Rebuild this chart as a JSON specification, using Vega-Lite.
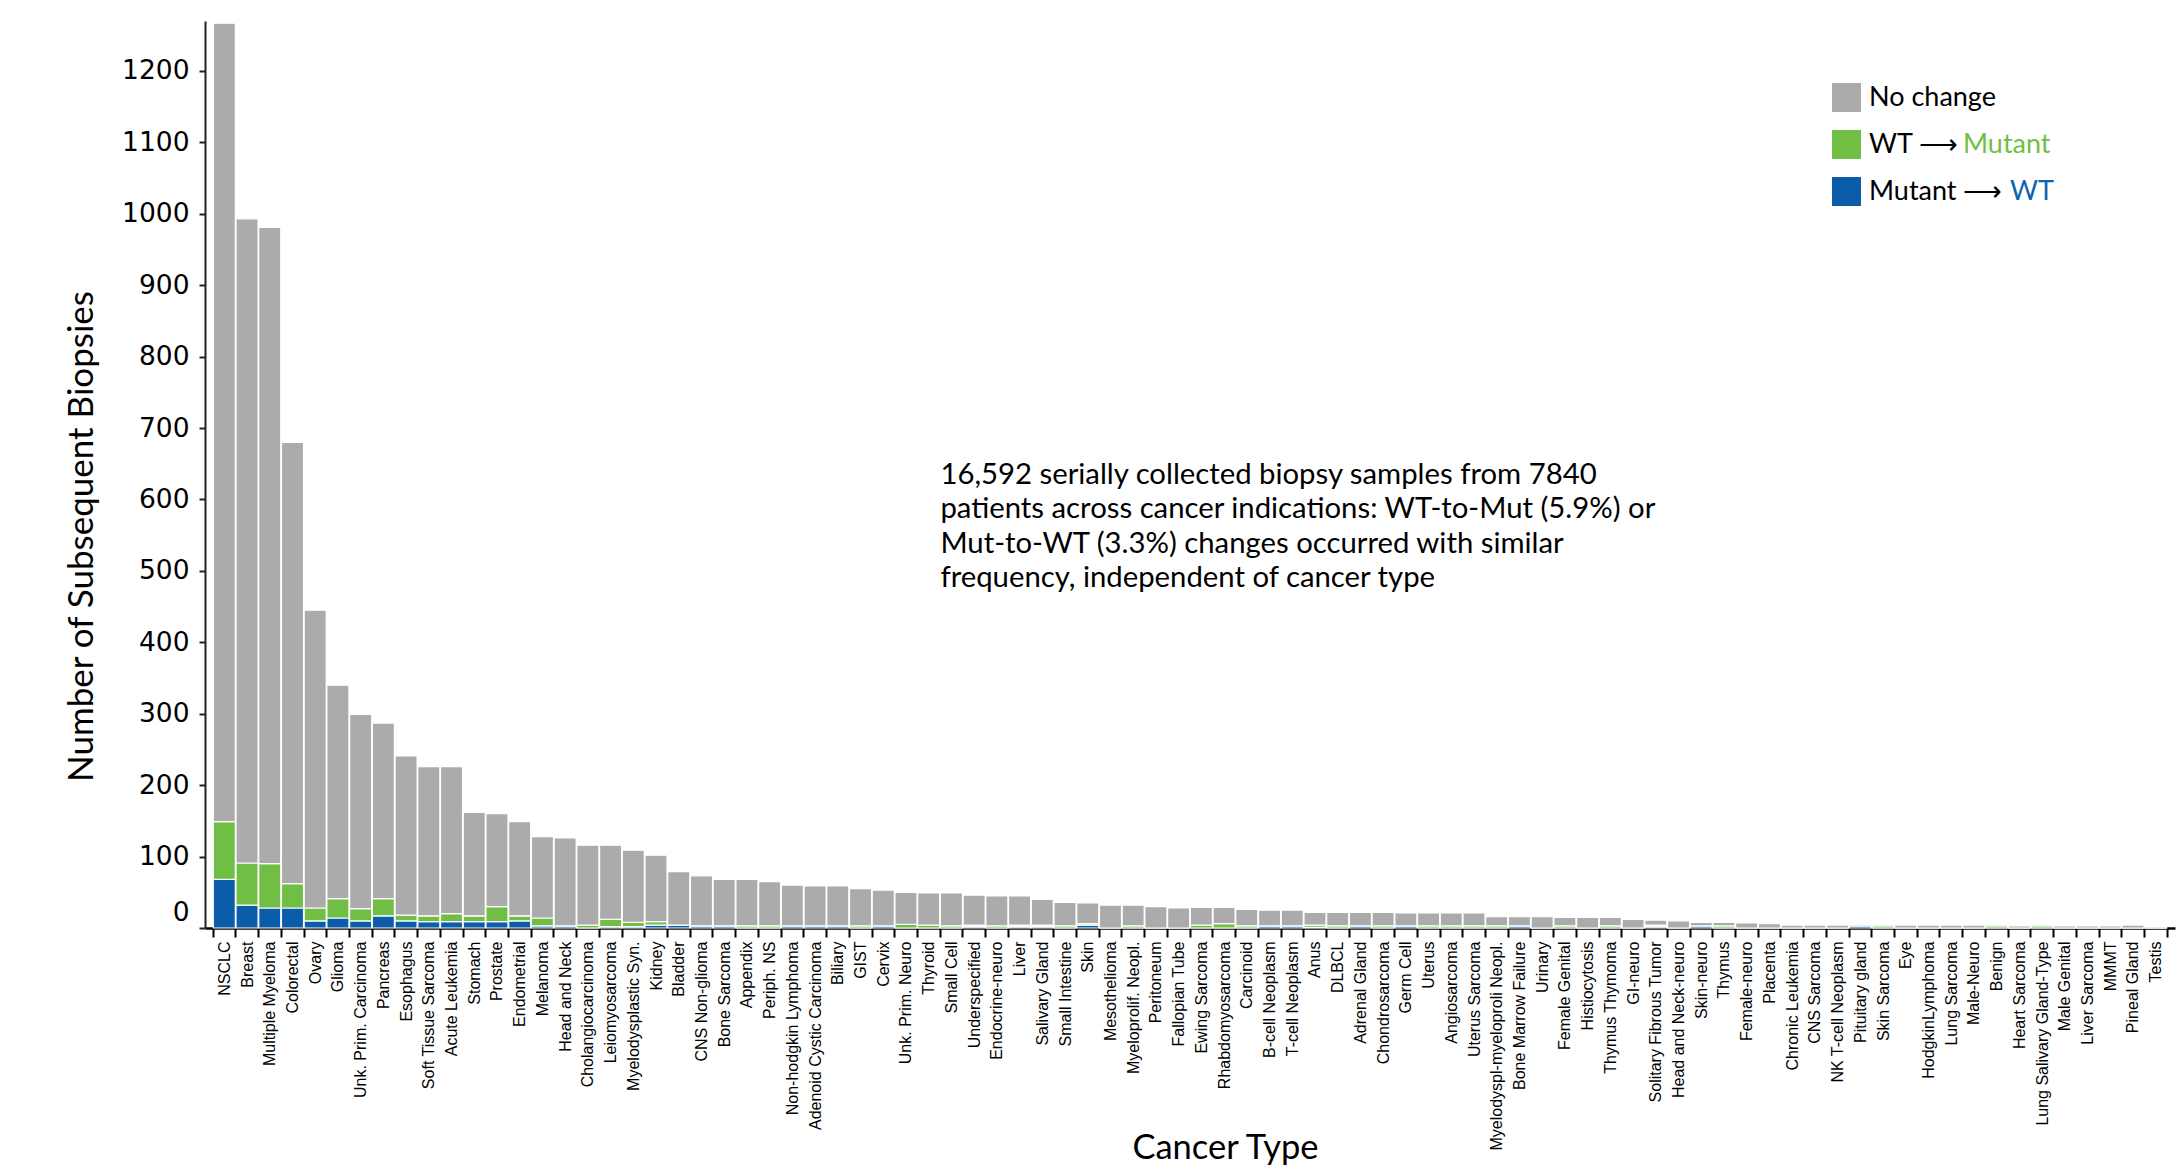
{
  "$schema": "https://vega.github.io/schema/vega-lite/v6.json",
  "width": 1970,
  "height": 907,
  "autosize": {"type": "none"},
  "padding": {"left": 205, "top": 21, "right": 5, "bottom": 242},
  "background": "white",
  "config": {"view": {"stroke": null}, "axis": {"grid": false}},
  "layer": [
    {
      "data": {"values": [
        {"c": "NSCLC", "mw": 68, "wm": 81, "nc": 1118},
        {"c": "Breast", "mw": 32, "wm": 59, "nc": 902},
        {"c": "Multiple Myeloma", "mw": 28, "wm": 62, "nc": 891},
        {"c": "Colorectal", "mw": 28, "wm": 34, "nc": 618},
        {"c": "Ovary", "mw": 10, "wm": 18, "nc": 417},
        {"c": "Glioma", "mw": 14, "wm": 27, "nc": 299},
        {"c": "Unk. Prim. Carcinoma", "mw": 10, "wm": 17, "nc": 272},
        {"c": "Pancreas", "mw": 17, "wm": 24, "nc": 246},
        {"c": "Esophagus", "mw": 10, "wm": 8, "nc": 223},
        {"c": "Soft Tissue Sarcoma", "mw": 9, "wm": 8, "nc": 209},
        {"c": "Acute Leukemia", "mw": 9, "wm": 11, "nc": 206},
        {"c": "Stomach", "mw": 9, "wm": 8, "nc": 145},
        {"c": "Prostate", "mw": 9, "wm": 21, "nc": 130},
        {"c": "Endometrial", "mw": 10, "wm": 7, "nc": 132},
        {"c": "Melanoma", "mw": 3, "wm": 11, "nc": 114},
        {"c": "Head and Neck", "mw": 3, "wm": 0, "nc": 123},
        {"c": "Cholangiocarcinoma", "mw": 0, "wm": 4, "nc": 112},
        {"c": "Leiomyosarcoma", "mw": 2, "wm": 10, "nc": 104},
        {"c": "Myelodysplastic Syn.", "mw": 2, "wm": 6, "nc": 101},
        {"c": "Kidney", "mw": 4, "wm": 5, "nc": 93},
        {"c": "Bladder", "mw": 4, "wm": 0, "nc": 75},
        {"c": "CNS Non-glioma", "mw": 3, "wm": 0, "nc": 70},
        {"c": "Bone Sarcoma", "mw": 3, "wm": 0, "nc": 65},
        {"c": "Appendix", "mw": 0, "wm": 3, "nc": 65},
        {"c": "Periph. NS", "mw": 0, "wm": 3, "nc": 62},
        {"c": "Non-hodgkin Lymphoma", "mw": 3, "wm": 0, "nc": 57},
        {"c": "Adenoid Cystic Carcinoma", "mw": 3, "wm": 0, "nc": 56},
        {"c": "Biliary", "mw": 3, "wm": 0, "nc": 56},
        {"c": "GIST", "mw": 0, "wm": 3, "nc": 52},
        {"c": "Cervix", "mw": 3, "wm": 0, "nc": 50},
        {"c": "Unk. Prim. Neuro", "mw": 0, "wm": 5, "nc": 45},
        {"c": "Thyroid", "mw": 0, "wm": 4, "nc": 45},
        {"c": "Small Cell", "mw": 0, "wm": 3, "nc": 46},
        {"c": "Underspecified", "mw": 2, "wm": 2, "nc": 42},
        {"c": "Endocrine-neuro", "mw": 0, "wm": 3, "nc": 42},
        {"c": "Liver", "mw": 2, "wm": 2, "nc": 41},
        {"c": "Salivary Gland", "mw": 2, "wm": 2, "nc": 36},
        {"c": "Small Intestine", "mw": 0, "wm": 3, "nc": 33},
        {"c": "Skin", "mw": 4, "wm": 2, "nc": 29},
        {"c": "Mesothelioma", "mw": 0, "wm": 0, "nc": 32},
        {"c": "Myeloprolif. Neopl.", "mw": 0, "wm": 3, "nc": 29},
        {"c": "Peritoneum", "mw": 0, "wm": 0, "nc": 30},
        {"c": "Fallopian Tube", "mw": 0, "wm": 0, "nc": 28},
        {"c": "Ewing Sarcoma", "mw": 0, "wm": 4, "nc": 25},
        {"c": "Rhabdomyosarcoma", "mw": 0, "wm": 6, "nc": 23},
        {"c": "Carcinoid", "mw": 0, "wm": 3, "nc": 23},
        {"c": "B-cell Neoplasm", "mw": 3, "wm": 0, "nc": 22},
        {"c": "T-cell Neoplasm", "mw": 3, "wm": 0, "nc": 22},
        {"c": "Anus", "mw": 1, "wm": 3, "nc": 18},
        {"c": "DLBCL", "mw": 0, "wm": 3, "nc": 19},
        {"c": "Adrenal Gland", "mw": 3, "wm": 0, "nc": 19},
        {"c": "Chondrosarcoma", "mw": 0, "wm": 3, "nc": 19},
        {"c": "Germ Cell", "mw": 3, "wm": 0, "nc": 18},
        {"c": "Uterus", "mw": 0, "wm": 3, "nc": 18},
        {"c": "Angiosarcoma", "mw": 0, "wm": 3, "nc": 18},
        {"c": "Uterus Sarcoma", "mw": 0, "wm": 3, "nc": 18},
        {"c": "Myelodyspl-myeloproli Neopl.", "mw": 0, "wm": 3, "nc": 13},
        {"c": "Bone Marrow Failure", "mw": 3, "wm": 0, "nc": 13},
        {"c": "Urinary", "mw": 0, "wm": 0, "nc": 16},
        {"c": "Female Genital", "mw": 0, "wm": 3, "nc": 12},
        {"c": "Histiocytosis", "mw": 0, "wm": 0, "nc": 15},
        {"c": "Thymus Thymoma", "mw": 0, "wm": 3, "nc": 12},
        {"c": "GI-neuro", "mw": 0, "wm": 0, "nc": 12},
        {"c": "Solitary Fibrous Tumor", "mw": 2, "wm": 2, "nc": 7},
        {"c": "Head and Neck-neuro", "mw": 0, "wm": 0, "nc": 10},
        {"c": "Skin-neuro", "mw": 3, "wm": 0, "nc": 5},
        {"c": "Thymus", "mw": 0, "wm": 3, "nc": 5},
        {"c": "Female-neuro", "mw": 0, "wm": 0, "nc": 7},
        {"c": "Placenta", "mw": 0, "wm": 0, "nc": 6},
        {"c": "Chronic Leukemia", "mw": 0, "wm": 0, "nc": 4},
        {"c": "CNS Sarcoma", "mw": 0, "wm": 0, "nc": 4},
        {"c": "NK T-cell Neoplasm", "mw": 0, "wm": 0, "nc": 4},
        {"c": "Pituitary gland", "mw": 3, "wm": 0, "nc": 2},
        {"c": "Skin Sarcoma", "mw": 0, "wm": 3, "nc": 2},
        {"c": "Eye", "mw": 0, "wm": 0, "nc": 4},
        {"c": "HodgkinLymphoma", "mw": 0, "wm": 0, "nc": 4},
        {"c": "Lung Sarcoma", "mw": 0, "wm": 0, "nc": 4},
        {"c": "Male-Neuro", "mw": 0, "wm": 0, "nc": 4},
        {"c": "Benign", "mw": 0, "wm": 3, "nc": 2},
        {"c": "Heart Sarcoma", "mw": 0, "wm": 0, "nc": 3},
        {"c": "Lung Salivary Gland-Type", "mw": 0, "wm": 3, "nc": 2},
        {"c": "Male Genital", "mw": 0, "wm": 0, "nc": 3},
        {"c": "Liver Sarcoma", "mw": 0, "wm": 0, "nc": 3},
        {"c": "MMMT", "mw": 0, "wm": 0, "nc": 3},
        {"c": "Pineal Gland", "mw": 0, "wm": 0, "nc": 4},
        {"c": "Testis", "mw": 0, "wm": 0, "nc": 2}
      ]},
      "transform": [
        {"fold": ["mw", "wm", "nc"], "as": ["s", "n"]},
        {"window": [{"op": "row_number", "as": "k"}], "groupby": ["c"]}
      ],
      "mark": {"type": "bar", "stroke": "white", "strokeWidth": 1.2},
      "encoding": {
        "x": {
          "field": "c", "type": "nominal", "sort": null,
          "scale": {"paddingInner": 0.03, "paddingOuter": 0.365},
          "axis": {
            "title": "Cancer Type",
            "labelAngle": -90,
            "labelFont": "Liberation Sans",
            "labelFontSize": 16,
            "labelColor": "black",
            "labelPadding": 4,
            "labelLimit": 400,
            "labelOverlap": false,
            "tickBand": "extent",
            "tickSize": 9,
            "tickWidth": 2,
            "tickColor": "black",
            "domainColor": "black",
            "domainWidth": 2.5,
            "titleFont": "Lato",
            "titleFontSize": 34.5,
            "titleFontWeight": "normal",
            "titleColor": "black",
            "titleX": 1020,
            "titleY": 230,
            "titleBaseline": "alphabetic",
            "titleAlign": "center"
          }
        },
        "y": {
          "field": "n", "type": "quantitative", "stack": "zero",
          "scale": {"domain": [0, 1270], "nice": false},
          "axis": {
            "title": "Number of Subsequent Biopsies",
            "values": [0, 100, 200, 300, 400, 500, 600, 700, 800, 900, 1000, 1100, 1200],
            "format": "d",
            "labelFont": "DejaVu Sans",
            "labelFontSize": 26.5,
            "labelColor": "black",
            "labelPadding": 10,
            "labelOffset": {"condition": {"test": "datum.value === 0", "value": -16}, "value": 0},
            "tickSize": 6,
            "tickWidth": 2,
            "tickColor": "#222222",
            "domainColor": "#222222",
            "domainWidth": 2,
            "titleFont": "Lato",
            "titleFontSize": 35,
            "titleFontWeight": "normal",
            "titleColor": "black",
            "titleAngle": 270,
            "titleX": -106,
            "titleY": 515,
            "titleBaseline": "bottom",
            "titleAlign": "center"
          }
        },
        "color": {
          "field": "s", "type": "nominal",
          "scale": {"domain": ["nc", "wm", "mw"], "range": ["#ABABAB", "#70BF44", "#0B5CA9"]},
          "legend": {
            "orient": "none", "legendX": 1627, "legendY": 62, "title": null, "padding": 0,
            "symbolType": "square", "symbolSize": 841, "symbolStrokeWidth": 0,
            "labelFont": "Lato", "labelFontSize": 27, "labelColor": "black", "labelOffset": 8,
            "rowPadding": 18, "labelLimit": 400,
            "labelExpr": "datum.label == 'nc' ? 'No change' : datum.label == 'wm' ? 'WT ⟶' : 'Mutant ⟶'"
          }
        },
        "opacity": {
          "field": "k", "type": "ordinal",
          "scale": {"domain": [3, 2, 1], "range": [1, 1, 1]},
          "legend": {
            "orient": "none", "legendX": 1627, "legendY": 62, "title": null, "padding": 0,
            "symbolType": "square", "symbolSize": 841, "symbolStrokeWidth": 0,
            "symbolFillColor": "transparent", "symbolOpacity": 0,
            "labelFont": "Lato", "labelFontSize": 27,
            "labelOffset": {"expr": "datum.value == 2 ? 102 : 149"},
            "labelColor": {"expr": "datum.value == 2 ? '#70BF44' : '#0E62AE'"},
            "rowPadding": 18, "labelLimit": 400,
            "labelExpr": "datum.value == 2 ? 'Mutant' : datum.value == 1 ? 'WT' : ''"
          }
        },
        "order": {"field": "k", "type": "quantitative"}
      }
    },
    {
      "data": {"values": [{}]},
      "mark": {"type": "text", "align": "left", "baseline": "alphabetic", "font": "Lato", "fontSize": 29.3, "lineHeight": 34.5, "color": "black"},
      "encoding": {
        "x": {"datum": "Small Cell", "type": "nominal", "bandPosition": 0},
        "y": {"datum": 622, "type": "quantitative"},
        "text": {"value": [
          "16,592 serially collected biopsy samples from 7840",
          "patients across cancer indications: WT-to-Mut (5.9%) or",
          "Mut-to-WT (3.3%) changes occurred with similar",
          "frequency, independent of cancer type"
        ]}
      }
    }
  ]
}
